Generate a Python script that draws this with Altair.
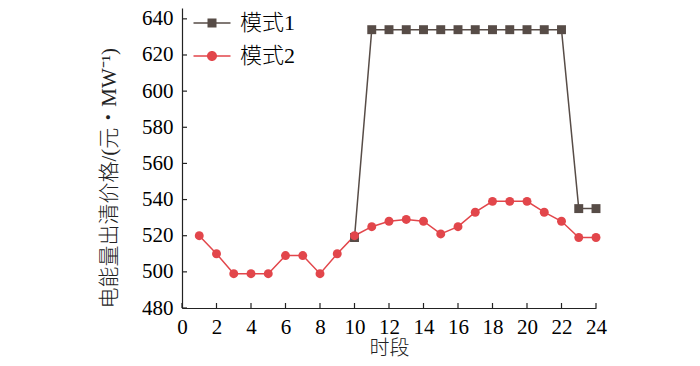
import altair as alt
import pandas as pd

hours = list(range(1, 25))
mode2 = [520, 510, 499, 499, 499, 509, 509, 499, 510, 520, 525, 528,
         529, 528, 521, 525, 533, 539, 539, 539, 533, 528, 519, 519]
mode1_hours = list(range(10, 25))
mode1 = [519, 634, 634, 634, 634, 634, 634, 634, 634, 634, 634, 634, 634, 535, 535]

series_names = ["模式1", "模式2"]
series_colors = ["#574c47", "#e2464b"]
x_ticks = list(range(0, 25, 2))
y_ticks = list(range(480, 641, 20))

df = pd.DataFrame(
    {"hour": mode1_hours + hours,
     "price": mode1 + mode2,
     "series": ["模式1"] * len(mode1) + ["模式2"] * len(mode2)}
)
df_xt = pd.DataFrame({"hour": x_ticks})
df_yt = pd.DataFrame({"price": y_ticks})

FONT = "Liberation Serif, Noto Sans CJK SC"

xscale = alt.Scale(domain=[0, 24], nice=False, zero=False)
yscale = alt.Scale(domain=[480, 646], nice=False, zero=False)
cscale = alt.Scale(domain=series_names, range=series_colors)

x_axis = alt.Axis(values=x_ticks, tickSize=0, grid=False, title="时段",
                  labelPadding=8, titlePadding=1, format="d",
                  labelOverlap=False, labelFlush=False)
y_axis = alt.Axis(values=y_ticks, tickSize=0, grid=False,
                  title="电能量出清价格/(元・MW⁻¹)", labelPadding=9,
                  titlePadding=22, format="d", labelOverlap=False,
                  labelFlush=False, titleAnchor="start", titleFontSize=21)
X = alt.X("hour:Q", scale=xscale, axis=x_axis)
Y = alt.Y("price:Q", scale=yscale, axis=y_axis)

base = alt.Chart(df)

line = base.mark_line(strokeWidth=1.5).encode(
    x=X, y=Y, color=alt.Color("series:N", scale=cscale, legend=None),
    detail="series:N")

points = base.mark_point(filled=True, opacity=1, size=80).encode(
    x=X, y=Y,
    color=alt.Color("series:N", scale=cscale, legend=None),
    shape=alt.Shape("series:N",
                    scale=alt.Scale(domain=series_names, range=["square", "circle"]),
                    legend=None))

bar = "M-1.85,-0.075H1.85V0.075H-1.85Z"
sq_path = bar + "M-0.45,-0.45H0.45V0.45H-0.45Z"
ci_path = bar + "M0.5,0A0.5,0.5 0 1,1 -0.5,0A0.5,0.5 0 1,1 0.5,0Z"
leg_paths = [sq_path, ci_path]
leg_y = [4, 37]

legend_layers = []
for name, col, path, ly in zip(series_names, series_colors, leg_paths, leg_y):
    leg = alt.Legend(title=None, orient="none", legendX=19, legendY=ly,
                     symbolSize=400, symbolStrokeWidth=0, labelOffset=17,
                     symbolFillColor=col, symbolStrokeColor=col,
                     labelFont=FONT, labelFontSize=22, labelColor="black",
                     labelFontWeight=300, padding=0, symbolOpacity=1)
    legend_layers.append(
        alt.Chart(df[df["series"] == name]).mark_point(
            filled=True, fill=col, opacity=0, size=80
        ).encode(
            x=X, y=Y,
            shape=alt.Shape("series:N",
                            scale=alt.Scale(domain=[name], range=[path]),
                            legend=leg))
    )

yt = alt.Chart(df_yt).mark_rule(color="#222", strokeWidth=1.2).encode(
    y=Y, x=alt.value(0), x2=alt.value(5))
xt = alt.Chart(df_xt).mark_rule(color="#222", strokeWidth=1.2).encode(
    x=X, y=alt.value(300), y2=alt.value(295))

chart = alt.layer(*legend_layers, line, points, yt, xt).resolve_scale(
    shape="independent"
).properties(
    width=414, height=300,
    autosize=alt.AutoSizeParams(type="none"),
    padding={"left": 174, "top": 0, "right": 96, "bottom": 50},
).configure_view(stroke=None).configure_axis(
    domainColor="#222", domainWidth=1.2,
    labelFont=FONT, labelFontSize=21, labelColor="black",
    titleFont=FONT, titleFontSize=20, titleColor="#222", titleFontWeight=300,
)

chart.save("out.html", embed_options={"renderer": "svg", "actions": False})
